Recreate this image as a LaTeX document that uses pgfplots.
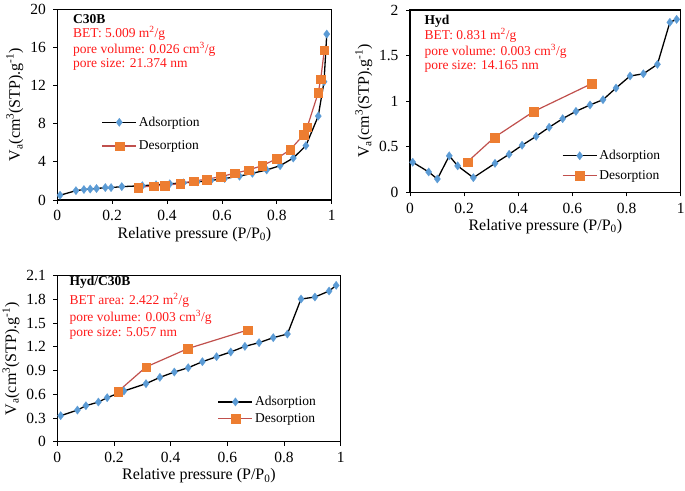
\documentclass[border=0pt]{standalone}
\usepackage{fontspec}
\setmainfont{Liberation Serif}
\usepackage{pgfplots}
\pgfplotsset{compat=1.18}
\definecolor{adsblue}{HTML}{5B9BD5}
\definecolor{desor}{HTML}{ED7D31}
\definecolor{desline}{HTML}{C0504D}
\definecolor{annred}{HTML}{FF1A1A}

\pgfplotsset{
 mystyle/.style={
  scale only axis,
  anchor=south west,
  clip=false,
  axis line style={line width=1.2pt},
  tick style={black, line width=0.8pt},
  tick align=outside,
  major tick length=4pt,
  xtick pos=bottom, ytick pos=left,
  xmin=0,xmax=1, xtick={0,0.2,0.4,0.6,0.8,1},
  ticklabel style={font=\fontsize{15.5}{18}\selectfont},
  xticklabel style={yshift=-3pt},
  yticklabel style={xshift=-4pt},
  /pgf/number format/assume math mode=true,
  label style={font=\fontsize{16}{19}\selectfont},
  xlabel={Relative pressure (P/P\textsubscript{0})},
  ylabel={V\textsubscript{a}(cm\textsuperscript{3}(STP).g\textsuperscript{-1})},
  xlabel style={yshift=1pt},
  legend cell align=left,
  legend image code/.code={\draw[mark repeat=2,mark phase=2,##1] plot coordinates {(0pt,0pt) (17pt,0pt) (34pt,0pt)};},
 },
 ads/.style={black, line width=1.3pt, mark=diamond*, mark size=4.2pt, mark options={draw=adsblue, fill=adsblue, line width=0.2pt}},
 des/.style={desline, line width=1.2pt, mark=square*, mark size=4.3pt, mark options={draw=desor, fill=desor, line width=0.2pt}},
}

\newcommand{\ann}{\fontsize{13.5}{16}\selectfont}

\begin{document}
\begin{tikzpicture}
\path[use as bounding box] (0,0) rectangle (685pt,490pt);

% Panel 1: C30B
\begin{axis}[mystyle,
  at={(57.3pt,290pt)}, width=274.4pt, height=190.7pt,
  ymin=0, ymax=20, ytick={0,4,8,12,16,20},
  legend style={draw=none, fill=none, font=\fontsize{13.5}{16}\selectfont, at={(0.15,0.346)}, anchor=west, row sep=9pt},
]
\addplot[ads] coordinates {
(0.01,0.5) (0.068,0.98) (0.097,1.1) (0.12,1.15) (0.143,1.2) (0.175,1.3) (0.196,1.3) (0.235,1.4)
(0.31,1.5) (0.36,1.6) (0.41,1.7) (0.46,1.8) (0.51,1.9) (0.56,2.05) (0.61,2.25)
(0.664,2.5) (0.711,2.8) (0.763,3.15) (0.812,3.6) (0.86,4.4) (0.906,5.7) (0.951,8.8) (0.972,12.4) (0.982,17.4)
};
\addlegendentry{Adsorption}
\addplot[des] coordinates {
(0.295,1.33) (0.35,1.47) (0.392,1.54) (0.447,1.71) (0.496,2.0) (0.544,2.17) (0.595,2.45)
(0.647,2.8) (0.697,3.15) (0.747,3.6) (0.8,4.34) (0.849,5.28) (0.898,6.85) (0.911,7.66)
(0.951,11.26) (0.96,12.7) (0.973,15.7)
};
\addlegendentry{Desorption}
\end{axis}

% Panel 2: Hyd
\begin{axis}[mystyle,
  at={(410pt,297.7pt)}, width=270.7pt, height=182.3pt,
  ymin=0, ymax=2, ytick={0,0.5,1,1.5,2},
  legend style={draw=none, fill=none, font=\fontsize{13.5}{16}\selectfont, at={(0.55,0.147)}, anchor=west, row sep=5pt},
]
\addplot[ads] coordinates {
(0.01,0.33) (0.069,0.223) (0.101,0.146) (0.145,0.40) (0.176,0.29) (0.234,0.16)
(0.314,0.318) (0.366,0.417) (0.414,0.516) (0.466,0.614) (0.514,0.713) (0.564,0.808)
(0.613,0.888) (0.665,0.958) (0.713,1.016) (0.761,1.144) (0.813,1.276) (0.862,1.30)
(0.914,1.404) (0.96,1.865) (0.985,1.897)
};
\addlegendentry{Adsorption}
\addplot[des] coordinates {
(0.212,0.333) (0.312,0.603) (0.456,0.885) (0.671,1.192)
};
\addlegendentry{Desorption}
\end{axis}

% Panel 3: Hyd/C30B
\begin{axis}[mystyle,
  at={(57.3pt,48.3pt)}, width=283.4pt, height=166pt,
  ymin=0, ymax=2.1, ytick={0,0.3,0.6,0.9,1.2,1.5,1.8,2.1},
  yticklabels={0,0.3,0.6,0.9,1.2,1.5,1.8,2.1},
  legend style={draw=none, fill=none, font=\fontsize{13.5}{16}\selectfont, at={(0.555,0.19)}, anchor=west, row sep=2pt},
]
\addplot[ads] coordinates {
(0.012,0.329) (0.071,0.40) (0.101,0.455) (0.145,0.502) (0.176,0.557) (0.235,0.641)
(0.313,0.734) (0.362,0.814) (0.413,0.881) (0.462,0.936) (0.512,1.012) (0.562,1.075)
(0.612,1.135) (0.662,1.206) (0.712,1.253) (0.762,1.316) (0.812,1.362) (0.86,1.805)
(0.909,1.83) (0.959,1.906) (0.984,1.978)
};
\addlegendentry{Adsorption}
\addplot[des] coordinates {
(0.215,0.637) (0.313,0.945) (0.46,1.177) (0.672,1.413)
};
\addlegendentry{Desorption}
\end{axis}

% Annotations
\node[anchor=west, inner sep=0pt, font=\ann\bfseries] at (73pt,471pt) {C30B};
\node[anchor=west, inner sep=0pt, font=\ann, text=annred] at (73pt,456.5pt) {BET: 5.009 m\textsuperscript{2}/g};
\node[anchor=west, inner sep=0pt, font=\ann, text=annred] at (73pt,441pt) {pore volume: 0.026 cm\textsuperscript{3}/g};
\node[anchor=west, inner sep=0pt, font=\ann, text=annred] at (73pt,426pt) {pore size: 21.374 nm};

\node[anchor=west, inner sep=0pt, font=\ann\bfseries] at (424.3pt,469pt) {Hyd};
\node[anchor=west, inner sep=0pt, font=\ann, text=annred] at (424.3pt,455pt) {BET: 0.831 m\textsuperscript{2}/g};
\node[anchor=west, inner sep=0pt, font=\ann, text=annred] at (424.3pt,438.3pt) {pore volume: 0.003 cm\textsuperscript{3}/g};
\node[anchor=west, inner sep=0pt, font=\ann, text=annred] at (424.3pt,423.3pt) {pore size: 14.165 nm};

\node[anchor=west, inner sep=0pt, font=\ann\bfseries] at (69.3pt,207.7pt) {Hyd/C30B};
\node[anchor=west, inner sep=0pt, font=\ann, text=annred] at (69.3pt,190pt) {BET area: 2.422 m\textsuperscript{2}/g};
\node[anchor=west, inner sep=0pt, font=\ann, text=annred] at (69.3pt,172.7pt) {pore volume: 0.003 cm\textsuperscript{3}/g};
\node[anchor=west, inner sep=0pt, font=\ann, text=annred] at (69.3pt,156.7pt) {pore size: 5.057 nm};
\end{tikzpicture}
\end{document}
